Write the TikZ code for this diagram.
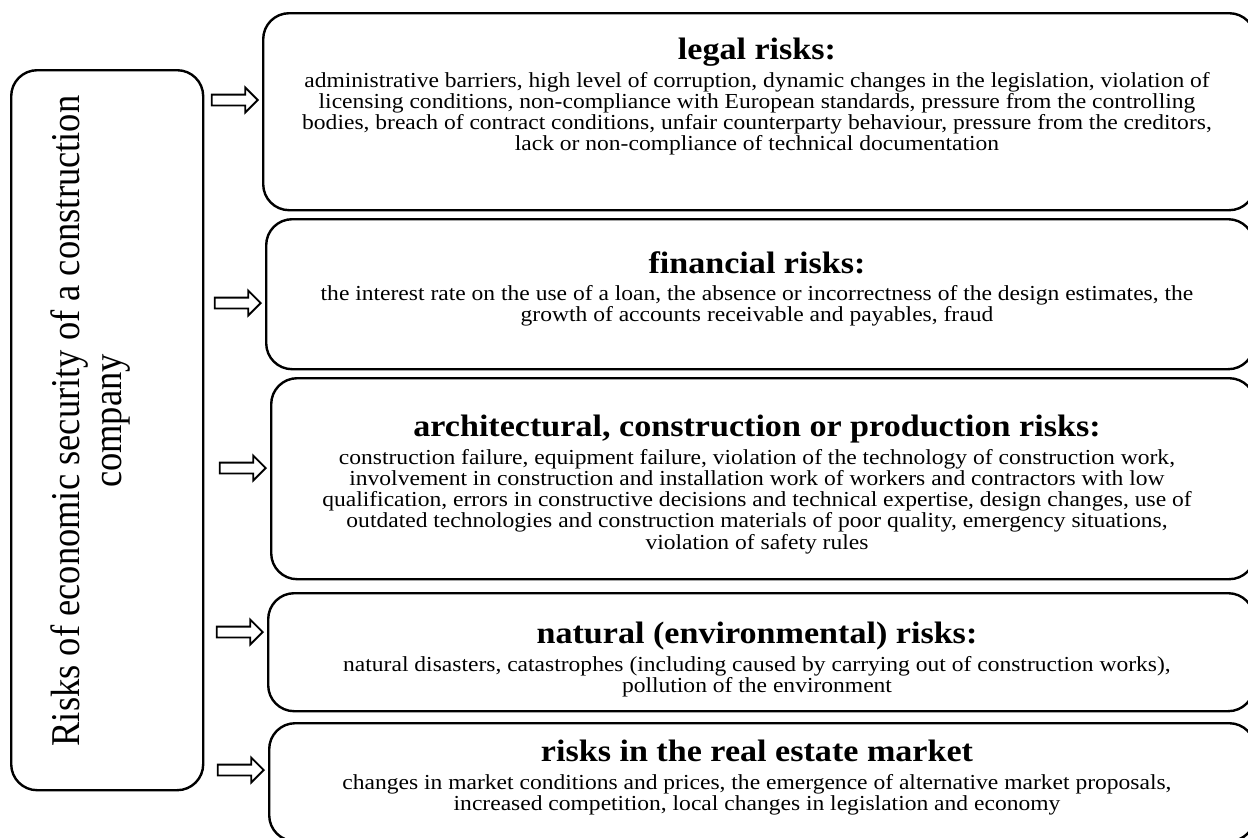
\documentclass[tikz,border=0pt]{standalone}
\usepackage{fontspec}
\usepackage{graphicx}
\setmainfont{Liberation Serif}[FakeStretch=1.1]
\newfontfamily\sidefont{Liberation Serif}
\usetikzlibrary{shapes.arrows}
\newcommand{\tightlines}{\setlength{\lineskiplimit}{-30pt}}

\begin{document}
\begin{tikzpicture}[x=1pt,y=-1pt,
  frame/.style={draw,line width=2.4pt,rounded corners=26pt,inner sep=0pt},
  hollow/.style={draw,line width=1.8pt,single arrow,inner sep=4.5pt,
    single arrow head extend=7pt,single arrow head indent=0pt,
    minimum height=46pt,anchor=tip},
  riskstext/.style={align=center,inner sep=0pt,anchor=north,
    font={\fontsize{21.4}{21.3}\selectfont\tightlines}}]
  \newcommand{\hd}[1]{{\fontsize{31}{21}\selectfont\bfseries #1}\\[6pt]}
  \useasboundingbox (0,0) rectangle (1248,838);
  \clip (0,0) rectangle (1248,838);
  % left column
  \node[frame,minimum width=192pt,minimum height=720pt,anchor=north west] (risks) at (10,69) {};
  \node[rotate=90,inner sep=0pt] (risks-t) at (92,421)
    {\scalebox{1}[1.12]{\sidefont\fontsize{36.5}{37.5}\selectfont
     \begin{tabular}{@{}c@{}}Risks of economic security of a construction\\company\end{tabular}}};
  % right column
  \node[frame,minimum width=992pt,minimum height=197pt,anchor=north west] (legal) at (262,12) {};
  \node[frame,minimum width=988pt,minimum height=150pt,anchor=north west] (fin) at (265,218) {};
  \node[frame,minimum width=984pt,minimum height=201pt,anchor=north west] (arch) at (270,377) {};
  \node[frame,minimum width=986pt,minimum height=118pt,anchor=north west] (nat) at (267,592) {};
  \node[frame,minimum width=986pt,minimum height=118pt,anchor=north west] (market) at (268,722) {};
  \node[riskstext] (legal-t) at (757,38) {\hd{legal risks:}
    administrative barriers, high level of corruption, dynamic changes in the legislation, violation of\\
    licensing conditions, non-compliance with European standards, pressure from the controlling\\
    bodies, breach of contract conditions, unfair counterparty behaviour, pressure from the creditors,\\
    lack or non-compliance of technical documentation};
  \node[riskstext] (fin-t) at (757,251) {\hd{financial risks:}
    the interest rate on the use of a loan, the absence or incorrectness of the design estimates, the\\
    growth of accounts receivable and payables, fraud};
  \node[riskstext] (arch-t) at (757,415) {\hd{architectural, construction or production risks:}
    construction failure, equipment failure, violation of the technology of construction work,\\
    involvement in construction and installation work of workers and contractors with low\\
    qualification, errors in constructive decisions and technical expertise, design changes, use of\\
    outdated technologies and construction materials of poor quality, emergency situations,\\
    violation of safety rules};
  \node[riskstext] (nat-t) at (757,622) {\hd{natural (environmental) risks:}
    natural disasters, catastrophes (including caused by carrying out of construction works),\\
    pollution of the environment};
  \node[riskstext] (market-t) at (757,740) {\hd{risks in the real estate market}
    changes in market conditions and prices, the emergence of alternative market proposals,\\
    increased competition, local changes in legislation and economy};
  % arrows
  \foreach \b/\h in {legal/100,fin/303,arch/468,nat/632,market/770} {
    \coordinate (y-\b) at (0,\h);
    \node[hollow] (to-\b) at ([xshift=-3pt]\b.west |- y-\b) {};
  }
\end{tikzpicture}
\end{document}
